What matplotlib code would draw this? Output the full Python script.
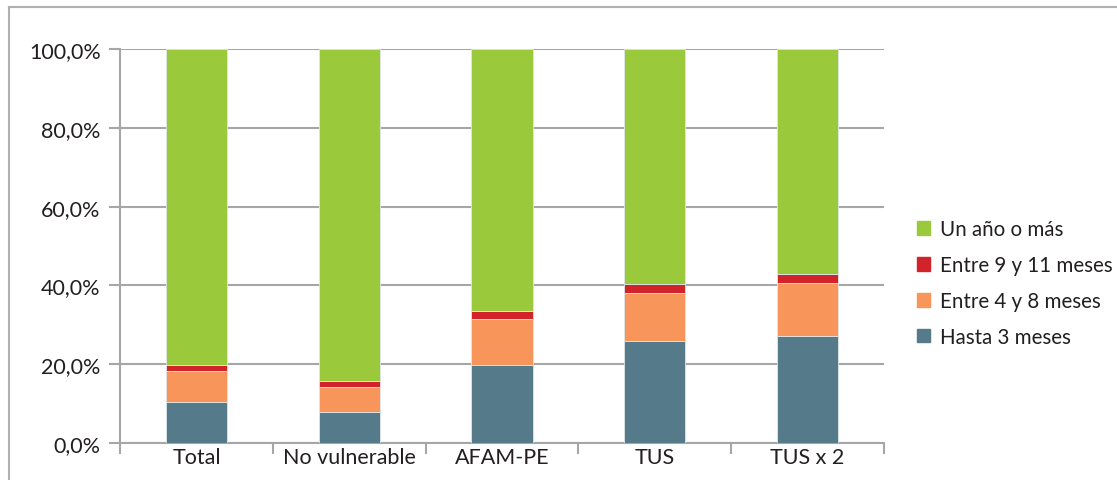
import numpy as np
import matplotlib
matplotlib.use("Agg")
import matplotlib.pyplot as plt
from matplotlib.patches import Rectangle
from matplotlib.lines import Line2D

plt.rcParams['font.family'] = ['Lato', 'DejaVu Sans']

# data (share of each group, %)
categories = ["Total", "No vulnerable", "AFAM-PE", "TUS", "TUS x 2"]
hasta_3 = [10.5, 7.8, 19.8, 25.8, 27.2]
entre_4_8 = [7.8, 6.5, 11.7, 12.3, 13.4]
entre_9_11 = [1.6, 1.5, 2.0, 2.3, 2.3]
un_anio = [80.1, 84.2, 66.5, 59.6, 57.1]

series = [
    ("Hasta 3 meses", hasta_3, "#557a8a"),
    ("Entre 4 y 8 meses", entre_4_8, "#f7955a"),
    ("Entre 9 y 11 meses", entre_9_11, "#d2232a"),
    ("Un año o más", un_anio, "#9aca3c"),
]

fs = 15.5
txt = "#231f20"
grey = "#a6a6a8"

fig = plt.figure(figsize=(11.17, 4.81), dpi=100)
ax = fig.add_axes([120 / 1117, 37 / 481, 764 / 1117, 394 / 481])

x = np.arange(len(categories))
bottom = np.zeros(len(categories))
handles = []
for name, vals, col in series:
    vals = np.array(vals)
    ax.bar(x, vals, width=0.4, bottom=bottom, color=col, edgecolor="#dfe6e8",
           linewidth=0.6, zorder=3)
    bottom += vals
    handles.append(Rectangle((0, 0), 1, 1, color=col))

ax.set_xlim(-0.5, len(categories) - 0.5)
ax.set_ylim(0, 100)
ax.set_yticks(np.arange(0, 101, 20))
ax.set_yticklabels([f"{v:.1f}%".replace(".", ",") for v in np.arange(0, 101, 20)])
ax.yaxis.grid(True, color=grey, linewidth=1.5, zorder=0)
ax.tick_params(axis="y", length=8, width=1.5, color=grey, labelsize=fs,
               labelcolor=txt, pad=6)

# category labels between boundary ticks
ax.set_xticks(np.arange(-0.5, len(categories), 1))
ax.set_xticklabels([])
ax.set_xticks(x, minor=True)
ax.set_xticklabels(categories, minor=True)
ax.tick_params(axis="x", which="major", length=8, width=1.5, color=grey)
ax.tick_params(axis="x", which="minor", length=0, labelsize=fs,
               labelcolor=txt, pad=3)

for s in ["top", "right"]:
    ax.spines[s].set_visible(False)
for s in ["left", "bottom"]:
    ax.spines[s].set_color(grey)
    ax.spines[s].set_linewidth(1.5)

leg = fig.legend(handles[::-1], [s[0] for s in series][::-1],
                 loc="center left", bbox_to_anchor=(898 / 1117, 1 - 284 / 481),
                 frameon=False, fontsize=14.8, handlelength=0.65, handleheight=0.65,
                 handletextpad=0.5, labelspacing=0.77)
for t in leg.get_texts():
    t.set_color(txt)

# outer frame of the figure
fig.add_artist(Line2D([9 / 1117, 9 / 1117], [0, 1 - 8 / 481], transform=fig.transFigure,
                      color="#b0b0b2", linewidth=1.5))
fig.add_artist(Line2D([9 / 1117, 1], [1 - 8 / 481, 1 - 8 / 481], transform=fig.transFigure,
                      color="#b0b0b2", linewidth=1.5))

fig.savefig("out.png", dpi=100)
